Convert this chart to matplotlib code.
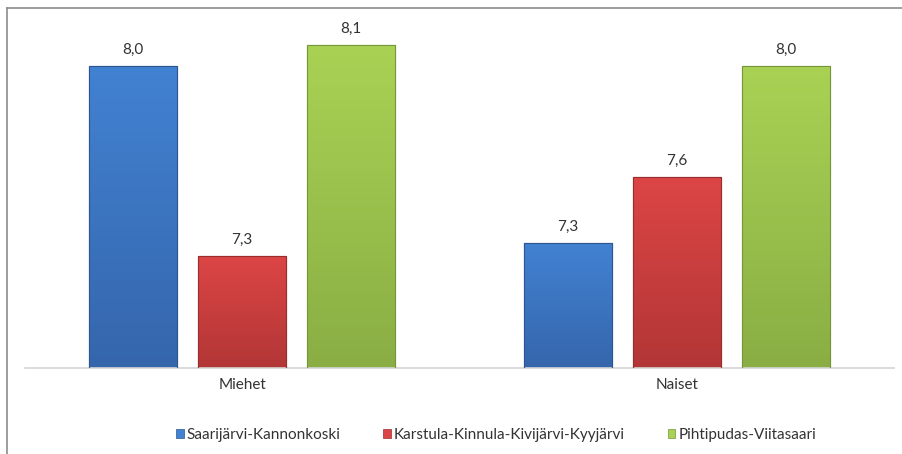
import numpy as np
import matplotlib
matplotlib.use("Agg")
import matplotlib.pyplot as plt
from matplotlib.patches import Patch
from matplotlib.lines import Line2D

categories = ["Miehet", "Naiset"]
series = ["Saarijärvi-Kannonkoski", "Karstula-Kinnula-Kivijärvi-Kyyjärvi", "Pihtipudas-Viitasaari"]
values = [
    [8.0, 7.33],   # Saarijärvi-Kannonkoski
    [7.28, 7.58],  # Karstula-Kinnula-Kivijärvi-Kyyjärvi
    [8.08, 8.0],   # Pihtipudas-Viitasaari
]
labels = [["8,0", "7,3"], ["7,3", "7,6"], ["8,1", "8,0"]]

# (top colour, bottom colour, edge)
colors = [
    ("#4282d2", "#3566ac", "#2d5690"),
    ("#dc4545", "#b33636", "#9a2d2d"),
    ("#a9d254", "#8aae44", "#76963a"),
]

plt.rcParams['font.family'] = ['Lato', 'DejaVu Sans']

W, H = 903, 454
fig = plt.figure(figsize=(W / 100, H / 100), dpi=100)
ax = fig.add_axes([25 / W, 1 - 368 / H, 869 / W, 358 / H])

ymin, ymax = 6.855, 8.212
x = np.arange(len(categories))
width = 0.2025
step = 0.251
fs = 11

for i in range(len(series)):
    top, bot, edge = colors[i]
    xs = x + (i - 1) * step
    bars = ax.bar(xs, values[i], width, bottom=0, color=top, edgecolor=edge, linewidth=0.8, zorder=2)
    cmap = matplotlib.colors.LinearSegmentedColormap.from_list("g%d" % i, [bot, top])
    grad = np.linspace(0, 1, 100).reshape(-1, 1)
    for b, lab in zip(bars, labels[i]):
        x0 = b.get_x()
        h = b.get_height()
        im = ax.imshow(grad, cmap=cmap, origin="lower", aspect="auto",
                       extent=[x0, x0 + b.get_width(), ymin, h], zorder=2.5)
        im.set_clip_path(b)
        ax.bar(b.get_x() + b.get_width() / 2, h, b.get_width(), color="none",
               edgecolor=edge, linewidth=0.8, zorder=3)
        ax.text(b.get_x() + b.get_width() / 2, h + 0.033, lab, ha="center", va="bottom",
                fontsize=fs, color="#333333", zorder=4)

ax.set_xlim(-0.5, 1.5)
ax.set_ylim(ymin, ymax)
ax.set_yticks([])
ax.set_xticks(x)
ax.set_xticklabels(categories, fontsize=fs, color="#333333")
ax.tick_params(axis="x", length=0, pad=7)
for s in ["top", "right", "left"]:
    ax.spines[s].set_visible(False)
ax.spines["bottom"].set_color("#d4d4d4")
ax.spines["bottom"].set_linewidth(1.2)

handles = [Patch(facecolor=c[0], edgecolor=c[2], linewidth=0.5) for c in colors]
fig.legend(handles, series, loc="center", bbox_to_anchor=(496 / W, 1 - 435 / H), ncol=3,
           frameon=False, fontsize=fs, handlelength=0.5, handleheight=0.5,
           handletextpad=0.2, columnspacing=2.8, labelcolor="#333333")

# outer border (chart is cropped at right and bottom)
fig.add_artist(Line2D([7 / W, 7 / W], [0, 1 - 8 / H], color="#8c8c8c", linewidth=1.2, transform=fig.transFigure))
fig.add_artist(Line2D([7 / W, 1], [1 - 8 / H, 1 - 8 / H], color="#8c8c8c", linewidth=1.2, transform=fig.transFigure))

fig.savefig("out.png", dpi=100)
